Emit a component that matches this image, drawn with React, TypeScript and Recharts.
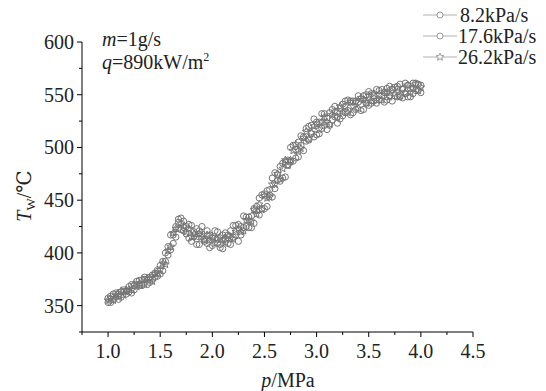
import React from "react";
import { ScatterChart, Scatter, XAxis, YAxis, Legend } from "recharts";

const pressure = [
  1.0, 1.025, 1.05, 1.075, 1.1, 1.125, 1.15, 1.175, 1.2, 1.225,
  1.25, 1.275, 1.3, 1.325, 1.35, 1.375, 1.4, 1.425, 1.45, 1.475,
  1.5, 1.525, 1.55, 1.575, 1.6, 1.625, 1.65, 1.675, 1.7, 1.725,
  1.75, 1.775, 1.8, 1.825, 1.85, 1.875, 1.9, 1.925, 1.95, 1.975,
  2.0, 2.025, 2.05, 2.075, 2.1, 2.125, 2.15, 2.175, 2.2, 2.225,
  2.25, 2.275, 2.3, 2.325, 2.35, 2.375, 2.4, 2.425, 2.45, 2.475,
  2.5, 2.525, 2.55, 2.575, 2.6, 2.625, 2.65, 2.675, 2.7, 2.725,
  2.75, 2.775, 2.8, 2.825, 2.85, 2.875, 2.9, 2.925, 2.95, 2.975,
  3.0, 3.025, 3.05, 3.075, 3.1, 3.125, 3.15, 3.175, 3.2, 3.225,
  3.25, 3.275, 3.3, 3.325, 3.35, 3.375, 3.4, 3.425, 3.45, 3.475,
  3.5, 3.525, 3.55, 3.575, 3.6, 3.625, 3.65, 3.675, 3.7, 3.725,
  3.75, 3.775, 3.8, 3.825, 3.85, 3.875, 3.9, 3.925, 3.95, 3.975,
  4.0,
];

// wall temperature, 8.2 kPa/s
const tempSlow = [
  357, 353, 361, 358, 356, 363, 363, 361, 368, 362,
  369, 373, 369, 369, 375, 374, 372, 379, 377, 384,
  380, 392, 392, 406, 403, 417, 415, 429, 433, 421,
  425, 414, 426, 416, 408, 421, 418, 411, 421, 405,
  414, 421, 409, 405, 417, 413, 409, 421, 415, 426,
  411, 425, 424, 434, 424, 435, 428, 444, 452, 442,
  456, 444, 460, 471, 461, 469, 482, 471, 486, 483,
  500, 487, 498, 491, 511, 510, 506, 520, 513, 510,
  524, 513, 532, 521, 528, 521, 536, 529, 523, 537,
  530, 544, 535, 544, 533, 544, 543, 535, 549, 542,
  553, 542, 549, 542, 554, 549, 543, 556, 549, 555,
  549, 558, 548, 555, 561, 548, 556, 551, 561, 554,
  559,
];

// 17.6 kPa/s
const tempMid = [
  353, 359, 356, 362, 361, 358, 365, 364, 363, 370,
  365, 370, 374, 370, 377, 370, 377, 375, 381, 378,
  388, 383, 400, 398, 417, 409, 425, 432, 422, 430,
  418, 427, 411, 420, 423, 408, 425, 413, 409, 417,
  407, 414, 420, 408, 404, 419, 417, 408, 426, 417,
  427, 417, 435, 425, 434, 424, 442, 440, 436, 455,
  442, 459, 455, 453, 476, 474, 468, 485, 472, 488,
  486, 502, 490, 505, 502, 497, 518, 507, 521, 527,
  512, 524, 518, 532, 517, 533, 526, 539, 534, 527,
  541, 533, 545, 531, 544, 536, 549, 546, 536, 550,
  540, 551, 544, 555, 545, 555, 552, 545, 558, 544,
  557, 548, 560, 547, 551, 559, 548, 561, 554, 560,
  552,
];

// 26.2 kPa/s
const tempFast = [
  355, 357, 355, 360, 359, 364, 360, 365, 365, 365,
  370, 368, 371, 375, 371, 376, 376, 373, 380, 381,
  384, 390, 389, 402, 406, 419, 423, 423, 428, 425,
  420, 423, 415, 418, 415, 418, 415, 412, 417, 412,
  415, 409, 413, 415, 412, 410, 416, 414, 413, 420,
  423, 420, 421, 431, 431, 430, 441, 437, 446, 441,
  454, 452, 453, 465, 465, 475, 470, 480, 488, 483,
  488, 497, 503, 497, 499, 509, 515, 508, 514, 520,
  522, 517, 524, 529, 524, 522, 531, 534, 529, 539,
  533, 539, 533, 543, 539, 543, 537, 547, 545, 542,
  549, 544, 551, 545, 550, 545, 553, 552, 548, 556,
  551, 556, 549, 556, 552, 559, 552, 556, 560, 554,
  557,
];

const seriesNames = ["8.2kPa/s", "17.6kPa/s", "26.2kPa/s"];
const xTicks = [0.75, 1, 1.25, 1.5, 1.75, 2, 2.25, 2.5, 2.75, 3, 3.25, 3.5, 3.75, 4, 4.25, 4.5];
const yTicks = [325, 350, 375, 400, 425, 450, 475, 500, 525, 550, 575, 600];

const FONT = '"Liberation Serif", "DejaVu Serif", serif';
const TXT = { fontFamily: FONT, fontSize: 20, fill: "#222" };
const MARK = "#767676";

const toRows = (temps: number[]) => pressure.map((p, i) => ({ p, t: temps[i] }));

const starPath = (cx: number, cy: number, r: number) => {
  let d = "";
  for (let i = 0; i < 10; i++) {
    const rr = i % 2 === 0 ? r : r * 0.45;
    const a = -Math.PI / 2 + (i * Math.PI) / 5;
    d += (i === 0 ? "M" : "L") + (cx + rr * Math.cos(a)).toFixed(2) + "," + (cy + rr * Math.sin(a)).toFixed(2);
  }
  return d + "Z";
};

const Ring = (props: any) => (
  <circle cx={props.cx} cy={props.cy} r={3.1} fill="none" stroke={MARK} strokeWidth={1} />
);
const Star = (props: any) => (
  <path d={starPath(props.cx, props.cy, 4)} fill="none" stroke={MARK} strokeWidth={1} />
);

const XTick = ({ x, y, payload }: any) => {
  const v = payload.value;
  const major = Math.abs(v * 2 - Math.round(v * 2)) < 1e-6;
  return (
    <g>
      <line x1={x} x2={x} y1={y} y2={y + (major ? 5 : 3)} stroke="#000" />
      {major && (
        <text x={x} y={y + 12} dy="0.71em" textAnchor="middle" fontFamily={FONT} style={TXT}>
          {v.toFixed(1)}
        </text>
      )}
    </g>
  );
};

const YTick = ({ x, y, payload }: any) => {
  const v = payload.value;
  const major = v % 50 === 0;
  return (
    <g>
      <line x1={x} x2={x - (major ? 5 : 3)} y1={y} y2={y} stroke="#000" />
      {major && (
        <text x={x - 8} y={y} dy="0.35em" textAnchor="end" fontFamily={FONT} style={TXT}>
          {v}
        </text>
      )}
    </g>
  );
};

const LegendBox = () => (
  <svg width={130} height={66} style={{ overflow: "visible" }}>
    {seriesNames.map((name, i) => {
      const cy = 7 + i * 21;
      return (
        <g key={name}>
          <line x1={2} x2={36} y1={cy} y2={cy} stroke="#b0b0b0" strokeWidth={1} />
          {i < 2 ? (
            <circle cx={19} cy={cy} r={3} fill="#fff" stroke="#999" />
          ) : (
            <path d={starPath(19, cy, 4)} fill="#fff" stroke="#999" />
          )}
          <text x={37 + (i === 0 ? 2 : 0)} y={cy} dy="0.35em" style={TXT}>
            {name}
          </text>
        </g>
      );
    })}
  </svg>
);

export default function App() {
  return (
    <div style={{ position: "relative", width: 538, height: 383, fontFamily: FONT }}>
      <ScatterChart width={538} height={383} margin={{ top: 34, right: 73, bottom: 0, left: 0 }}>
        <XAxis
          type="number"
          dataKey="p"
          domain={[0.75, 4.5]}
          ticks={xTicks}
          interval={0}
          tickSize={0}
          tickMargin={0}
          tickLine={false}
          tick={<XTick />}
          height={59}
          stroke="#000"
          allowDataOverflow
        />
        <YAxis
          type="number"
          dataKey="t"
          domain={[325, 600]}
          ticks={yTicks}
          interval={0}
          tickSize={0}
          tickMargin={0}
          tickLine={false}
          tick={<YTick />}
          width={74}
          stroke="#000"
          allowDataOverflow
        />
        <Legend
          layout="horizontal"
          verticalAlign="middle"
          align="center"
          content={() => <LegendBox />}
          wrapperStyle={{ top: 0, left: 413, width: 130, height: 66 }}
        />
        <Scatter name={seriesNames[0]} data={toRows(tempSlow)} shape={Ring} isAnimationActive={false} />
        <Scatter name={seriesNames[1]} data={toRows(tempMid)} shape={Ring} isAnimationActive={false} />
        <Scatter name={seriesNames[2]} data={toRows(tempFast)} shape={Star} isAnimationActive={false} />
      </ScatterChart>
      <svg
        width={538}
        height={383}
        style={{ position: "absolute", left: 0, top: 0, pointerEvents: "none", overflow: "visible" }}
      >
        <g style={TXT}>
          <text x={94} y={38} style={TXT}>
            <tspan fontStyle="italic">m</tspan>=1g/s
          </text>
          <text x={94} y={61} style={TXT}>
            <tspan fontStyle="italic">q</tspan>=890kW/m
            <tspan fontSize={12} dy={-8}>2</tspan>
          </text>
          <text x={280} y={379} textAnchor="middle" style={TXT}>
            <tspan fontStyle="italic">p</tspan>/MPa
          </text>
          <text x={23} y={188} textAnchor="middle" transform="rotate(-90, 23, 188)" style={TXT}>
            <tspan fontStyle="italic">T</tspan>
            <tspan fontSize={13} dy={4}>W</tspan>
            <tspan dy={-4}>/℃</tspan>
          </text>
        </g>
      </svg>
    </div>
  );
}
